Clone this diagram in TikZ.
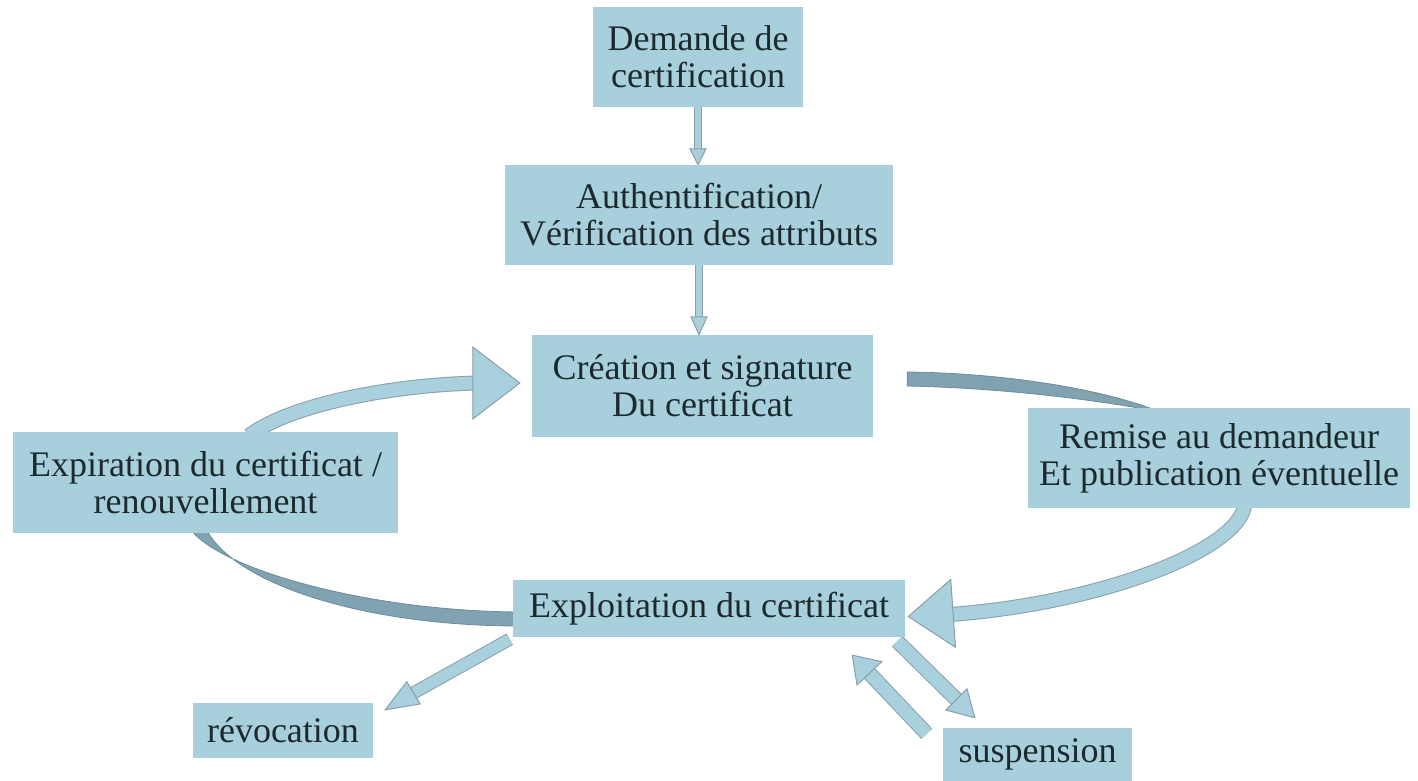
\documentclass[tikz,border=0pt]{standalone}
\usepackage{fontspec}
\setmainfont{Liberation Serif}
\usetikzlibrary{calc}
\definecolor{boxblue}{HTML}{A8CFDC}
\definecolor{arrblue}{HTML}{A9D0DD}
\definecolor{arredge}{HTML}{8A9FAA}
\definecolor{darkc}{HTML}{80A2B1}
\definecolor{darkedge}{HTML}{6B8C9A}
\definecolor{txt}{HTML}{1C2A2E}
\pgfdeclarelayer{bg}
\pgfsetlayers{bg,main}
\newcommand\bshaft[2]{%
  \draw[arredge, line width=#1+2pt] #2;
  \draw[arrblue, line width=#1] #2;}
\newcommand\bhead[4]{%
  \filldraw[fill=arrblue, draw=arredge, line width=1pt, line join=miter]
    (#1) -- ($(#1)+(#2+180:#4)+(#2+90:#3)$) -- ($(#1)+(#2+180:#4)+(#2-90:#3)$) -- cycle;}
\tikzset{
  box/.style={fill=boxblue, draw=none, inner sep=0pt, align=center, text=txt,
    font=\fontsize{36}{37}\selectfont},
  darkarc/.style={fill=darkc, draw=darkedge, line width=0.8pt}
}
\begin{document}
\begin{tikzpicture}[x=1pt,y=-1pt]
\useasboundingbox (0,0) rectangle (1418,781);
% boxes
\node[box, minimum width=210pt, minimum height=100pt] (dem) at (698,57) {Demande de\\certification};
\node[box, minimum width=388pt, minimum height=100pt] (auth) at (699,215) {Authentification/\\Vérification des attributs};
\node[box, minimum width=341pt, minimum height=102pt] (crea) at (702.5,386) {Création et signature\\Du certificat};
\node[box, minimum width=385pt, minimum height=101pt] (expi) at (205.5,482.5) {Expiration du certificat /\\renouvellement};
\node[box, minimum width=382pt, minimum height=100pt] (remi) at (1219,458) {Remise au demandeur\\Et publication éventuelle};
\node[box, minimum width=392pt, minimum height=57pt] (expl) at (709,608.5) {Exploitation du certificat};
\node[box, minimum width=180pt, minimum height=55pt] (revo) at (283,730.5) {révocation};
\node[box, minimum width=189pt, minimum height=53pt] (susp) at (1037.5,754.5) {suspension};
% connectors
\begin{pgfonlayer}{bg}
% Demande -> Authentification
\coordinate (t1) at (dem.south |- auth.north);
\bshaft{6pt}{(dem.south) -- ($(t1)+(0,-14)$)}
\bhead{t1}{90}{8}{16}
% Authentification -> Creation
\coordinate (t2) at (auth.south |- crea.north);
\bshaft{6pt}{(auth.south) -- ($(t2)+(0,-16)$)}
\bhead{t2}{90}{8}{18}
% Expiration -> Creation (curved)
\coordinate (s3) at ($(expi.north west)+(236,4)$);
\coordinate (t3) at ($(crea.west)+(-12,-3)$);
\bshaft{13pt}{(s3) .. controls +(41,-31) and +(-88,2) .. ($(t3)+(-42,0)$)}
\bhead{t3}{0}{36}{47}
% Remise -> Exploitation (curved)
\coordinate (s4) at ($(remi.south west)+(217,-4)$);
\coordinate (t4) at ($(expl.east)+(3,8)$);
\bshaft{13pt}{(s4) .. controls +(-5,46) and +(150,-11) .. ($(t4)+(42,-2)$)}
\bhead{t4}{176}{34}{45}
% Creation -> Remise (tapered)
\fill[darkarc] ($(crea.east)+(34,-14)$) .. controls +(93,1) and +(-60,-24) .. ($(remi.north west)+(132,4)$)
   .. controls +(-70,-13) and +(93,2) .. ($(crea.east)+(34,0)$) -- cycle;
% Exploitation -> Expiration (tapered)
\fill[darkarc] ($(expl.west)+(7,3.5)$) .. controls +(-160,-1) and +(25,38) .. ($(expi.south west)+(177,-5)$)
   -- ($(expi.south west)+(193,-5)$) .. controls +(26,54) and +(-160,0) .. ($(expl.west)+(7,17.5)$) -- cycle;
% Exploitation -> revocation
\coordinate (s5) at ($(expl.south west)+(-3,2)$);
\coordinate (t5) at ($(revo.north east)+(12,7)$);
\bshaft{11pt}{(s5) -- ($(t5)+(329:30)$)}
\bhead{t5}{149}{13}{33}
% Exploitation -> suspension
\coordinate (s6) at ($(expl.south east)+(-8,4)$);
\coordinate (t6) at ($(susp.north west)+(32,-10)$);
\bshaft{13pt}{(s6) -- ($(t6)+(225:23)$)}
\bhead{t6}{45}{15}{26}
% suspension -> Exploitation
\coordinate (s7) at ($(susp.north west)+(-16,6)$);
\coordinate (t7) at ($(expl.south east)+(-53,18)$);
\bshaft{13pt}{(s7) -- ($(t7)+(46.5:22)$)}
\bhead{t7}{226.5}{17}{25}
\end{pgfonlayer}
\end{tikzpicture}
\end{document}
